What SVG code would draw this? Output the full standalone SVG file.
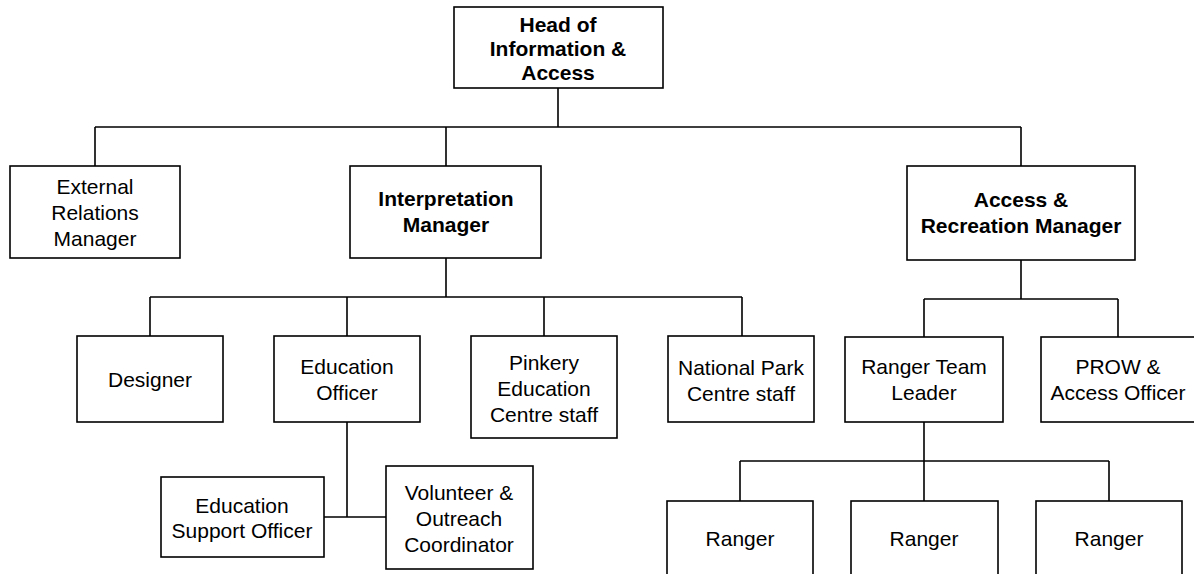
<svg xmlns="http://www.w3.org/2000/svg" width="1194" height="574" viewBox="0 0 1194 574">
<style>
.box{fill:#fff;stroke:#000;stroke-width:1.6}
.ln{fill:none;stroke:#000;stroke-width:1.6}
text{font-family:"Liberation Sans",Arial,sans-serif;font-size:21px;fill:#000;text-anchor:middle}
.b{font-weight:bold}
</style>
<rect width="1194" height="574" fill="#fff"/>
<g id="connectors">
<path class="ln" d="M558 88V127M95 127H1021M95 127V166M446 127V166M1021 127V166"/>
<path class="ln" d="M446 258V297M150 297H742M150 297V336M347 297V336M544 297V336M742 297V336"/>
<path class="ln" d="M347 422V517M324 517H386"/>
<path class="ln" d="M1021 260V299M924 299H1118M924 299V337M1118 299V337"/>
<path class="ln" d="M924 422V461M740 461H1109M740 461V501M924 461V501M1109 461V501"/>
</g>
<g id="head"><rect class="box" x="454" y="7" width="209" height="81"/><text class="b" x="558" y="32">Head of</text><text class="b" x="558" y="56">Information &amp;</text><text class="b" x="558" y="80">Access</text></g>
<g id="external"><rect class="box" x="10" y="166" width="170" height="92"/><text x="95" y="194">External</text><text x="95" y="220">Relations</text><text x="95" y="246">Manager</text></g>
<g id="interpretation"><rect class="box" x="350" y="166" width="191" height="92"/><text class="b" x="446" y="206">Interpretation</text><text class="b" x="446" y="232">Manager</text></g>
<g id="access"><rect class="box" x="907" y="166" width="228" height="94"/><text class="b" x="1021" y="207">Access &amp;</text><text class="b" x="1021" y="233">Recreation Manager</text></g>
<g id="designer"><rect class="box" x="77" y="336" width="146" height="86"/><text x="150" y="387">Designer</text></g>
<g id="education-officer"><rect class="box" x="274" y="336" width="146" height="86"/><text x="347" y="374">Education</text><text x="347" y="400">Officer</text></g>
<g id="pinkery"><rect class="box" x="471" y="336" width="146" height="102"/><text x="544" y="370">Pinkery</text><text x="544" y="396">Education</text><text x="544" y="422">Centre staff</text></g>
<g id="national-park"><rect class="box" x="668" y="336" width="146" height="86"/><text x="741" y="375">National Park</text><text x="741" y="401">Centre staff</text></g>
<g id="ranger-team-leader"><rect class="box" x="845" y="337" width="158" height="85"/><text x="924" y="374">Ranger Team</text><text x="924" y="400">Leader</text></g>
<g id="prow"><rect class="box" x="1041" y="337" width="156" height="85"/><text x="1118" y="374">PROW &amp;</text><text x="1118" y="400">Access Officer</text></g>
<g id="education-support"><rect class="box" x="161" y="477" width="163" height="80"/><text x="242" y="513">Education</text><text x="242" y="538">Support Officer</text></g>
<g id="volunteer"><rect class="box" x="386" y="466" width="147" height="103"/><text x="459" y="500">Volunteer &amp;</text><text x="459" y="526">Outreach</text><text x="459" y="552">Coordinator</text></g>
<g id="ranger-1"><rect class="box" x="667" y="501" width="146" height="90"/><text x="740" y="546">Ranger</text></g>
<g id="ranger-2"><rect class="box" x="851" y="501" width="147" height="90"/><text x="924" y="546">Ranger</text></g>
<g id="ranger-3"><rect class="box" x="1036" y="501" width="146" height="90"/><text x="1109" y="546">Ranger</text></g>
</svg>
